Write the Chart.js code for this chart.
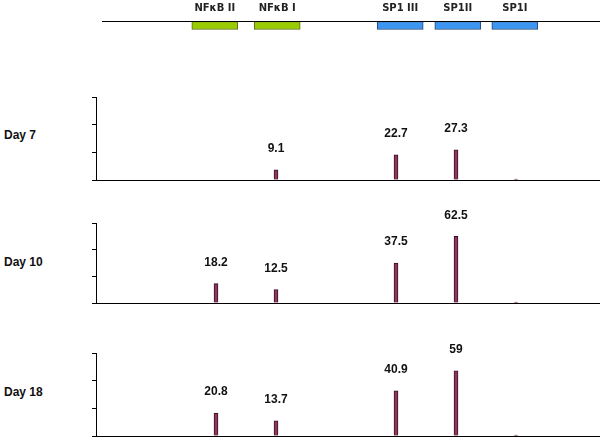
<!DOCTYPE html>
<html>
<head>
<meta charset="utf-8">
<script src="https://cdn.jsdelivr.net/npm/chart.js@4/dist/chart.umd.min.js"></script>
<style>
    body { margin: 0; background: #fff; }
    #page { position: relative; width: 600px; height: 442px; overflow: hidden; }
    .box { position: absolute; left: 0; width: 600px; }
    .day { position: absolute; left: 4px; font: bold 12px "Liberation Sans", Arial, sans-serif; color: #111; line-height: 14px; }
</style>
</head>
<body>
<div id="page">
    <div class="box" style="top:0;height:40px"><canvas id="mapChart"></canvas></div>
    <div class="day" style="top:128px">Day 7</div>
    <div class="box" style="top:70px;height:114px"><canvas id="day7Chart"></canvas></div>
    <div class="day" style="top:255px">Day 10</div>
    <div class="box" style="top:196px;height:111px"><canvas id="day10Chart"></canvas></div>
    <div class="day" style="top:385px">Day 18</div>
    <div class="box" style="top:326px;height:114px"><canvas id="day18Chart"></canvas></div>
</div>
<script>
'use strict';

// binding sites along the promoter
var siteNames = ['NFκB II', 'NFκB I', 'SP1 III', 'SP1II', 'SP1I'];
var siteColors = ['#99cc00', '#99cc00', '#3d96f2', '#3d96f2', '#3d96f2'];
var siteBorders = ['#5b6b1a', '#5b6b1a', '#23466e', '#23466e', '#23466e'];
var boxCenters = [1.98, 3.02, 5.07, 6.03, 6.98];
var sitePositions = [2, 3, 5, 6, 7];

// values per day (percent)
var day7Values = [null, 9.1, 22.7, 27.3, 0.8];
var day10Values = [18.2, 12.5, 37.5, 62.5, 0.8];
var day18Values = [20.8, 13.7, 40.9, 59, 0.8];

var yMax = 75;
var yStep = 25;
var xMax = 8.4;

var mapLabelPlugin = {
    id: 'mapLabels',
    afterDatasetsDraw: function (chart) {
        var ctx = chart.ctx;
        var meta = chart.getDatasetMeta(1);
        ctx.save();
        ctx.font = 'bold 10px "DejaVu Sans", Verdana, sans-serif';
        ctx.fillStyle = '#222';
        ctx.textAlign = 'center';
        ctx.textBaseline = 'middle';
        for (var i = 0; i < meta.data.length; i++) {
            var bar = meta.data[i];
            var top = Math.min(bar.y, bar.base);
            ctx.fillText(siteNames[i], bar.x, top - 13.5);
        }
        ctx.restore();
    }
};

var valueLabelPlugin = {
    id: 'valueLabels',
    afterDatasetsDraw: function (chart) {
        var ctx = chart.ctx;
        var meta = chart.getDatasetMeta(0);
        var values = chart.data.datasets[0].data;
        ctx.save();
        ctx.font = 'bold 12px "Liberation Sans", Arial, sans-serif';
        ctx.fillStyle = '#111';
        ctx.textAlign = 'center';
        ctx.textBaseline = 'middle';
        for (var i = 0; i < meta.data.length; i++) {
            var v = values[i].y;
            if (v == null || v < 5) {
                continue;
            }
            var bar = meta.data[i];
            ctx.fillText(String(v), bar.x, bar.y - 21);
        }
        ctx.restore();
    }
};

function createMapChart() {
    var ctx = document.getElementById('mapChart').getContext('2d');
    var boxes = [];
    for (var i = 0; i < boxCenters.length; i++) {
        boxes.push({ x: boxCenters[i], y: [-1, 0] });
    }

    new Chart(ctx, {
        type: 'bar',
        data: {
            datasets: [{
                type: 'line',
                data: [{ x: 0.1, y: 0 }, { x: xMax, y: 0 }],
                borderColor: '#000',
                borderWidth: 1,
                pointRadius: 0
            }, {
                type: 'bar',
                data: boxes,
                backgroundColor: siteColors,
                borderColor: siteBorders,
                borderWidth: 1,
                borderSkipped: false,
                barThickness: 46
            }]
        },
        options: {
            animation: false,
            responsive: true,
            maintainAspectRatio: false,
            layout: { padding: { left: 96, right: 0, top: 0, bottom: 0 } },
            plugins: { legend: { display: false }, tooltip: { enabled: false } },
            scales: {
                x: { type: 'linear', min: 0, max: xMax, offset: false, display: false },
                y: { min: -2.3125, max: 2.6875, display: false }
            }
        },
        plugins: [mapLabelPlugin]
    });
}

function createDayChart(canvasId, values) {
    var ctx = document.getElementById(canvasId).getContext('2d');
    var points = [];
    for (var i = 0; i < values.length; i++) {
        points.push({ x: sitePositions[i], y: values[i] });
    }

    new Chart(ctx, {
        type: 'bar',
        data: {
            datasets: [{
                data: points,
                backgroundColor: '#8b3a5e',
                borderColor: '#3d0d25',
                borderWidth: 1,
                barThickness: 4
            }]
        },
        options: {
            animation: false,
            responsive: true,
            maintainAspectRatio: false,
            layout: { padding: { left: 92, right: 0, top: 27, bottom: 4 } },
            plugins: { legend: { display: false }, tooltip: { enabled: false } },
            scales: {
                x: {
                    type: 'linear',
                    min: 0,
                    max: xMax,
                    offset: false,
                    grid: { display: false, drawTicks: false, offset: false },
                    ticks: { display: false },
                    border: { display: true, color: '#000', width: 1 }
                },
                y: {
                    min: 0,
                    max: yMax,
                    ticks: { display: false, stepSize: yStep },
                    grid: { drawOnChartArea: false, drawTicks: true, tickLength: 4, color: '#000' },
                    border: { display: true, color: '#000', width: 1 }
                }
            }
        },
        plugins: [valueLabelPlugin]
    });
}

createMapChart();
createDayChart('day7Chart', day7Values);
createDayChart('day10Chart', day10Values);
createDayChart('day18Chart', day18Values);
</script>
</body>
</html>
